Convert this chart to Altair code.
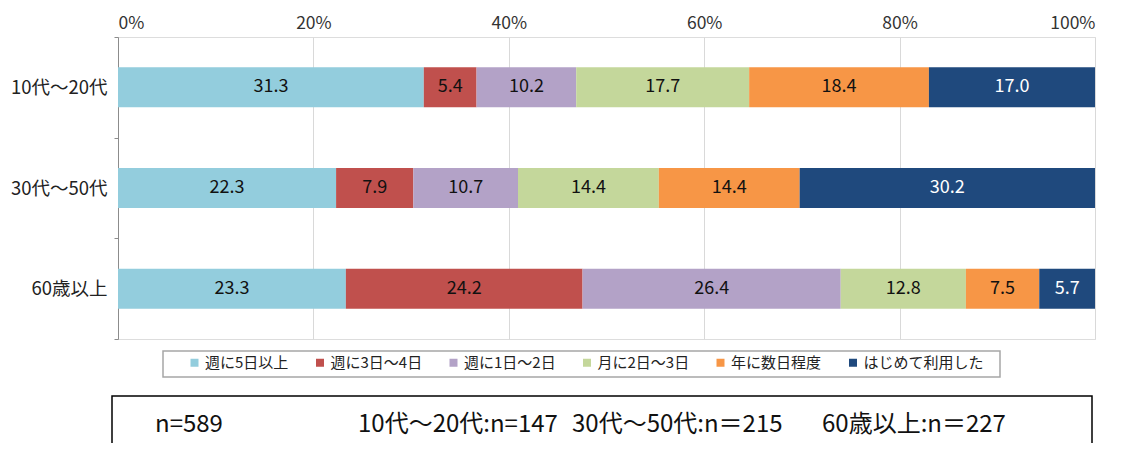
import altair as alt
import pandas as pd

groups = ["10代〜20代", "30代〜50代", "60歳以上"]
series = ["週に5日以上", "週に3日〜4日", "週に1日〜2日", "月に2日〜3日", "年に数日程度", "はじめて利用した"]
colors = ["#93CDDD", "#C0504D", "#B3A2C7", "#C4D79B", "#F79646", "#1F497D"]
vals_1020 = [31.3, 5.4, 10.2, 17.7, 18.4, 17.0]
vals_3050 = [22.3, 7.9, 10.7, 14.4, 14.4, 30.2]
vals_60 = [23.3, 24.2, 26.4, 12.8, 7.5, 5.7]
x_ticks = [0, 0.2, 0.4, 0.6, 0.8, 1.0]
note_total = "n=589"
note_groups = ["10代〜20代:n=147", "30代〜50代:n＝215", "60歳以上:n＝227"]

FONT = "Noto Sans CJK JP"

rows = []
for g, vals in zip(groups, [vals_1020, vals_3050, vals_60]):
    for i, (s, v) in enumerate(zip(series, vals)):
        rows.append({"group": g, "series": s, "value": v, "order": i})
df = pd.DataFrame(rows)

W, H = 977, 302

x_axis = alt.Axis(
    orient="top", format=".0%", values=x_ticks,
    title=None, ticks=False, domain=False, labelPadding=5,
    labelFontSize=17.5, labelColor="#333", labelFont=FONT,
    grid=True, gridColor="#d9d9d9",
)
x_scale = alt.Scale(domain=[0, 1], nice=False)

y_enc = alt.Y(
    "group:N",
    sort=groups,
    scale=alt.Scale(paddingInner=0, paddingOuter=0),
    axis=alt.Axis(
        title=None, tickBand="extent", tickSize=4, labelPadding=7,
        labelFontSize=18.5, labelColor="#222", labelFont=FONT,
        domainColor="#8c8c8c", tickColor="#8c8c8c", grid=False,
    ),
)

bars = alt.Chart(df).mark_bar(size=40).encode(
    x=alt.X("value:Q", stack="normalize", scale=x_scale, axis=x_axis),
    y=y_enc,
    color=alt.Color(
        "series:N", sort=series,
        scale=alt.Scale(domain=series, range=colors),
        legend=alt.Legend(
            title=None, orient="none", legendX=69, legendY=318,
            direction="horizontal", columns=6, symbolType="square",
            symbolSize=64, symbolStrokeWidth=0, labelFontSize=15, labelFont=FONT,
            labelColor="#222", columnPadding=23.5, padding=0, labelOffset=3,
        ),
    ),
    order=alt.Order("order:Q"),
)

labels = alt.Chart(df).transform_joinaggregate(
    total="sum(value)", groupby=["group"]
).transform_window(
    cum="sum(value)", sort=[alt.SortField("order")], groupby=["group"], frame=[None, 0]
).transform_calculate(
    mid="(datum.cum - datum.value / 2) / datum.total"
).mark_text(fontSize=18, font=FONT, baseline="middle").encode(
    x=alt.X("mid:Q", scale=x_scale, axis=x_axis),
    y=y_enc,
    text=alt.Text("value:Q", format=".1f"),
    color=alt.condition(
        alt.datum.series == "はじめて利用した", alt.value("white"), alt.value("#111")
    ),
)

one = pd.DataFrame({"a": [0]})
legend_box = alt.Chart(one).mark_rect(fill="white", stroke="#a6a6a6", strokeWidth=1.5).encode(
    x=alt.value(45), x2=alt.value(882), y=alt.value(314), y2=alt.value(340)
)
note_box = alt.Chart(one).mark_rect(fill="white", stroke="#000", strokeWidth=1.5).encode(
    x=alt.value(-6), x2=alt.value(974), y=alt.value(359), y2=alt.value(445)
)
note_xs = [240, 454, 704]
notes = [
    alt.Chart(one).mark_text(fontSize=24, font=FONT, align="left", baseline="middle", color="#111").encode(
        x=alt.value(37), y=alt.value(388), text=alt.value(note_total)
    )
]
for t, xv in zip(note_groups, note_xs):
    notes.append(
        alt.Chart(one).mark_text(fontSize=24, font=FONT, align="left", baseline="middle", color="#111").encode(
            x=alt.value(xv), y=alt.value(388), text=alt.value(t)
        )
    )

chart = alt.layer(legend_box, note_box, bars, labels, *notes).properties(
    width=W, height=H,
    autosize=alt.AutoSizeParams(type="none"),
    padding={"left": 110, "top": 29, "right": 22, "bottom": 104},
).configure_view(stroke="#a6a6a6", strokeWidth=1).configure(background="white")

chart.save("out.html", embed_options={"renderer": "svg", "actions": False})
